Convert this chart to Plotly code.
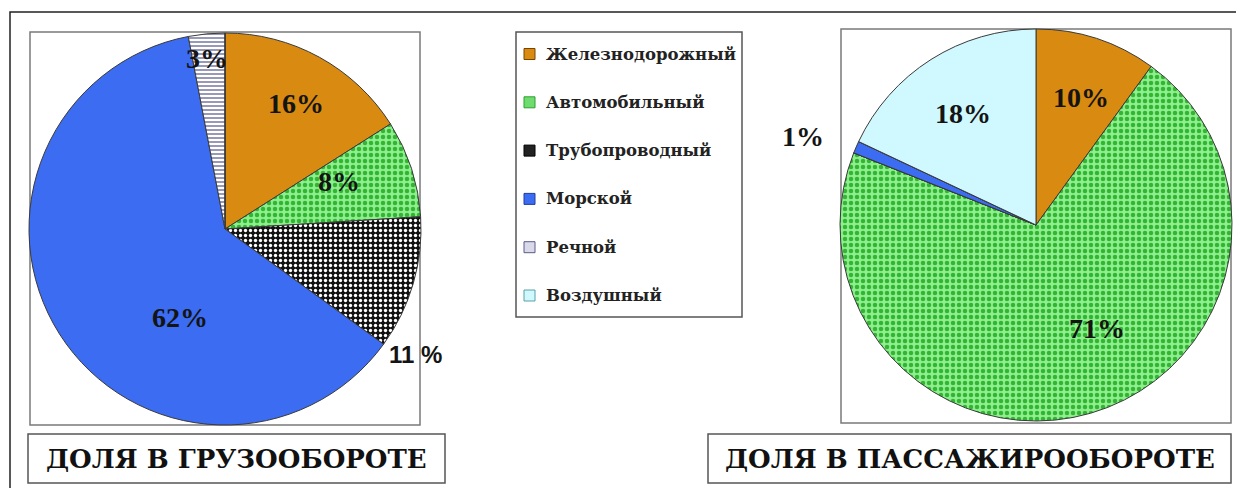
import plotly.graph_objects as go

# ---------------- data ----------------
categories = ["Железнодорожный", "Автомобильный", "Трубопроводный",
              "Морской", "Речной", "Воздушный"]
freight_values = [16, 8, 11, 62, 3, 0]
passenger_values = [10, 71, 0, 1, 0, 18]
freight_text = ["16%", "8%", "11 %", "62%", "3%", ""]
passenger_text = ["10%", "71%", "", "1%", "", "18%"]
titles = ["ДОЛЯ В ГРУЗООБОРОТЕ", "ДОЛЯ В ПАССАЖИРООБОРОТЕ"]

# ---------------- styles ----------------
PAGE_OFF = 8            # default body margin of the html page
W, H = 1244 - 2 * PAGE_OFF, 496 - 2 * PAGE_OFF
CYR_SERIF = "DejaVu Serif"
fill_colors = ["#d98a10", "#8eef8e", "#111111", "#3c6cf2", "#ffffff", "#cff9ff"]
pat_shapes = ["", ".", ".", "", "-", ""]
pat_fg = ["#d98a10", "#33b533", "#ffffff", "#3c6cf2", "#6b6b9b", "#cff9ff"]
pat_size = [6, 6, 5, 6, 4, 6]
pat_solid = [0.3, 0.45, 0.35, 0.3, 0.35, 0.3]
legend_swatch = ["#d98a10", "#6fdc6f", "#222222", "#3c6cf2", "#d9d9ea", "#cff9ff"]
legend_swatch_line = ["#7a4400", "#2f9f2f", "#000000", "#1f3f9f", "#5a5a8a", "#5aa0a8"]

# label offsets (in pie-radius units from pie centre) and fonts
freight_off = [(0.36, -0.64), (0.58, -0.24), (0.97, 0.64), (-0.23, 0.45), (-0.09, -0.87), (0, 0)]
passenger_off = [(0.23, -0.65), (0.31, 0.53), (0, 0), (-1.19, -0.45), (0, 0), (-0.37, -0.57)]
freight_sans = [False, False, True, False, False, False]
passenger_sans = [False] * 6


def px(x):
    return (x - PAGE_OFF) / W


def py(y):
    return 1 - (y - PAGE_OFF) / H


pies = [
    dict(values=freight_values, text=freight_text, off=freight_off, sans=freight_sans,
         cx=225, cy=229, R=196),
    dict(values=passenger_values, text=passenger_text, off=passenger_off, sans=passenger_sans,
         cx=1036, cy=225, R=196),
]

fig = go.Figure()
annotations = []
shapes = []

for p in pies:
    cx, cy, R = p["cx"], p["cy"], p["R"]
    fig.add_trace(go.Pie(
        labels=categories,
        values=p["values"],
        sort=False,
        direction="clockwise",
        rotation=0,
        textinfo="none",
        hoverinfo="label+percent",
        showlegend=False,
        domain=dict(x=[px(cx - R), px(cx + R)], y=[py(cy + R), py(cy - R)]),
        marker=dict(
            colors=fill_colors,
            line=dict(color="#3a3a3a", width=1),
            pattern=dict(shape=pat_shapes, fgcolor=pat_fg, bgcolor=fill_colors,
                         size=pat_size, solidity=pat_solid),
        ),
    ))
    for t, (dx, dy), sans in zip(p["text"], p["off"], p["sans"]):
        if not t:
            continue
        annotations.append(dict(
            x=px(cx + dx * R), y=py(cy + dy * R), xref="paper", yref="paper",
            text=t, showarrow=False, xanchor="center", yanchor="middle",
            font=dict(family="Liberation Sans" if sans else "Liberation Serif",
                      size=24 if sans else 28, color="#141414", weight="bold"),
        ))

# chart frames
box_line = dict(color="#7a7a7a", width=1.5)
shapes.append(dict(type="rect", xref="paper", yref="paper",
                   x0=px(10), x1=px(1252), y0=py(504), y1=py(12),
                   line=dict(color="#222222", width=1.5)))
shapes.append(dict(type="rect", xref="paper", yref="paper", layer="below",
                   x0=px(30), x1=px(420), y0=py(425), y1=py(32), line=box_line))
shapes.append(dict(type="rect", xref="paper", yref="paper", layer="below",
                   x0=px(841), x1=px(1231), y0=py(423), y1=py(29), line=box_line))

# title boxes
title_boxes = [(28, 445), (708, 1231)]
for t, (x0, x1) in zip(titles, title_boxes):
    shapes.append(dict(type="rect", xref="paper", yref="paper",
                       x0=px(x0), x1=px(x1), y0=py(483), y1=py(434),
                       line=dict(color="#555555", width=1.5)))
    annotations.append(dict(x=px((x0 + x1) / 2), y=py(459), xref="paper", yref="paper",
                            text=t, showarrow=False, xanchor="center", yanchor="middle",
                            font=dict(family=CYR_SERIF, size=26,
                                      color="#111111", weight="bold")))

# legend
shapes.append(dict(type="rect", xref="paper", yref="paper",
                   x0=px(516), x1=px(742), y0=py(317), y1=py(32),
                   line=dict(color="#555555", width=1.5)))
for i, cat in enumerate(categories):
    yc = 54 + i * 48.3
    shapes.append(dict(type="rect", xref="paper", yref="paper",
                       x0=px(524), x1=px(535), y0=py(yc + 5.5), y1=py(yc - 5.5),
                       fillcolor=legend_swatch[i],
                       line=dict(color=legend_swatch_line[i], width=1)))
    annotations.append(dict(x=px(544), y=py(yc), xref="paper", yref="paper",
                            text=cat, showarrow=False, xanchor="left", yanchor="middle",
                            font=dict(family=CYR_SERIF, size=16.5,
                                      color="#222222", weight="bold")))

fig.update_layout(
    width=W, height=H,
    margin=dict(l=0, r=0, t=0, b=0),
    paper_bgcolor="white",
    plot_bgcolor="white",
    shapes=shapes,
    annotations=annotations,
)

fig.write_html("out.html")
